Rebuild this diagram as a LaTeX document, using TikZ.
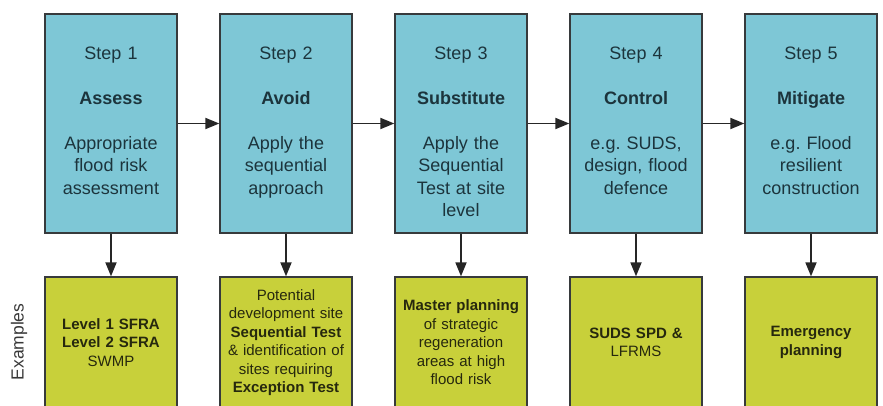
\documentclass[tikz,border=0pt]{standalone}
\usepackage{fontspec}
\setmainfont{Liberation Sans}
\usetikzlibrary{positioning,arrows.meta}
\frenchspacing

\definecolor{stepblue}{RGB}{126,199,214}
\definecolor{exyellow}{RGB}{200,208,58}
\definecolor{boxline}{RGB}{55,58,60}
\definecolor{steptextc}{RGB}{28,52,60}
\definecolor{extextc}{RGB}{38,40,14}

\tikzset{
  stepbox/.style={draw=boxline, line width=1.3pt, fill=stepblue, minimum width=132pt, minimum height=219pt, inner sep=0pt},
  steptext/.style={text=steptextc, font=\fontsize{18}{22.5}\selectfont, text width=132pt, align=center, inner sep=0pt},
  exbox/.style={draw=boxline, line width=1.3pt, fill=exyellow, text=extextc, font=\fontsize{15}{18.5}\selectfont, text width=128pt, inner xsep=2pt, minimum height=131pt, align=center},
  flow/.style={line width=1.8pt, draw=black!85, -{Triangle[length=14pt,width=11pt]}}
}

\begin{document}
\begin{tikzpicture}[x=1pt,y=-1pt]
  \useasboundingbox (0,0) rectangle (883,406);

  % step boxes
  \node[stepbox] (step1) at (111,123.5) {};
  \node[stepbox] (step2) at (286,123.5) {};
  \node[stepbox] (step3) at (461,123.5) {};
  \node[stepbox] (step4) at (636,123.5) {};
  \node[stepbox] (step5) at (811,123.5) {};

  \node[steptext, below=33pt of step1.north] (txt1) {Step 1\\[22.5pt]\textbf{Assess}\\[22.5pt]Appropriate\\flood risk\\assessment};
  \node[steptext, below=33pt of step2.north] (txt2) {Step 2\\[22.5pt]\textbf{Avoid}\\[22.5pt]Apply the\\sequential\\approach};
  \node[steptext, below=33pt of step3.north] (txt3) {Step 3\\[22.5pt]\textbf{Substitute}\\[22.5pt]Apply the\\Sequential\\Test at site\\level};
  \node[steptext, below=33pt of step4.north] (txt4) {Step 4\\[22.5pt]\textbf{Control}\\[22.5pt]e.g. SUDS,\\design, flood\\defence};
  \node[steptext, below=33pt of step5.north] (txt5) {Step 5\\[22.5pt]\textbf{Mitigate}\\[22.5pt]e.g. Flood\\resilient\\construction};

  % example boxes
  \node[exbox] (ex1) at (111,342.5) {\textbf{Level 1 SFRA}\\\textbf{Level 2 SFRA}\\SWMP};
  \node[exbox] (ex2) at (286,342.5) {Potential\\development site\\\textbf{Sequential Test}\\\& identification of\\sites requiring\\\textbf{Exception Test}};
  \node[exbox] (ex3) at (461,342.5) {\textbf{Master planning}\\of strategic\\regeneration\\areas at high\\flood risk};
  \node[exbox] (ex4) at (636,342.5) {\textbf{SUDS SPD \&}\\LFRMS};
  \node[exbox] (ex5) at (811,342.5) {\textbf{Emergency}\\\textbf{planning}};

  \node[rotate=90, text=black!78, font=\fontsize{17.5}{20}\selectfont] (exlabel) at (19,342) {Examples};

  % arrows
  \foreach \a/\b in {step1/step2,step2/step3,step3/step4,step4/step5}
    \draw[flow] (\a.east) -- (\b.west);
  \foreach \i in {1,...,5}
    \draw[flow] (step\i) -- (ex\i);
\end{tikzpicture}
\end{document}
